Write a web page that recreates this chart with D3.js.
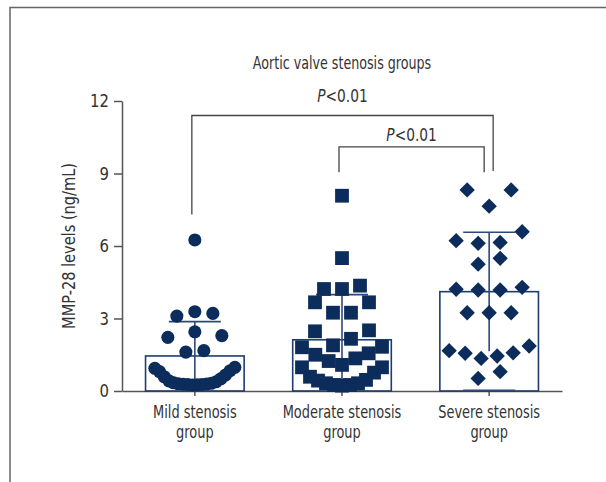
<!DOCTYPE html>
<html>
<head>
<meta charset="utf-8">
<script src="https://cdn.jsdelivr.net/npm/d3@7.9.0/dist/d3.min.js"></script>
<style>
  body { margin: 0; background: #fff; }
  svg { display: block; }
  text { font-family: "Liberation Sans Narrow", "DejaVu Sans Condensed", "Arial Narrow", sans-serif; fill: #333; }
</style>
</head>
<body>
<svg id="chart"></svg>
<script>
// group names and two-line tick labels
const groups = ['Mild', 'Moderate', 'Severe'];
const tickLines = {
  Mild: ['Mild stenosis', 'group'],
  Moderate: ['Moderate stenosis', 'group'],
  Severe: ['Severe stenosis', 'group']
};

// individual MMP-28 values (ng/mL)
const mildValues = [0.25, 0.26, 0.27, 0.27, 0.28, 0.29, 0.30, 0.32, 0.34, 0.38, 0.42, 0.50,
  0.59, 0.66, 0.80, 0.84, 0.94, 0.98, 1.61, 1.67, 2.22, 2.29, 2.45, 3.10, 3.21, 3.28, 6.25];
const moderateValues = [0.22, 0.25, 0.25, 0.32, 0.32, 0.43, 0.46, 0.59, 0.76, 0.98, 0.98,
  1.08, 1.24, 1.35, 1.50, 1.56, 1.81, 1.83, 1.89, 2.16, 2.47, 2.51, 3.24, 3.24, 3.67, 3.67,
  4.22, 4.22, 4.36, 5.50, 8.08];
const severeValues = [0.52, 0.80, 1.35, 1.45, 1.56, 1.58, 1.67, 1.86, 3.24, 3.24, 3.24,
  4.18, 4.18, 4.21, 4.29, 5.25, 5.49, 6.11, 6.15, 6.22, 6.59, 7.65, 8.32, 8.32];

// bar = mean, whisker = SD
const means = [1.45, 2.12, 4.11];
const sds = [1.42, 1.87, 2.46];

const yTicks = [0, 3, 6, 9, 12];

// significance brackets (y in ng/mL)
const comparisons = [
  { from: 'Mild', to: 'Severe', top: 11.4, leftEnd: 7.3, rightEnd: 9.1, label: '<0.01' },
  { from: 'Moderate', to: 'Severe', top: 10.1, leftEnd: 9.05, rightEnd: 9.05, label: '<0.01' }
];

const W = 606, H = 482;
const svg = d3.select('#chart').attr('width', W).attr('height', H);

// only DejaVu Condensed is around, squeeze it to look like a narrow face
function label(parent, px, py, sx, size) {
  return parent.append('text')
    .attr('transform', `translate(${px},${py}) scale(${sx},1)`)
    .attr('text-anchor', 'middle')
    .style('font-size', size + 'px');
}

// partial frame (top + left)
svg.append('path')
  .attr('d', `M10,${H} V7.5 H${W}`)
  .attr('fill', 'none')
  .attr('stroke', '#666')
  .attr('stroke-width', 1.5);

let x = d3.scaleBand()
  .domain(groups)
  .range([122, 562])
  .paddingInner(0.33)
  .paddingOuter(0.16);

let y = d3.scaleLinear()
  .domain([0, 12])
  .range([391, 101]);

const cx = g => x(g) + x.bandwidth() / 2;

// axes
let yAxis = svg.append('g')
  .attr('transform', 'translate(122,0)')
  .call(d3.axisLeft(y).tickValues(yTicks).tickSize(8).tickPadding(4).tickSizeOuter(0));

let xAxis = svg.append('g')
  .attr('transform', 'translate(0,391)')
  .call(d3.axisBottom(x).tickSize(5).tickSizeOuter(0).tickFormat(''));

[yAxis, xAxis].forEach(a => {
  a.selectAll('path, line').attr('stroke', '#555').attr('stroke-width', 1.5);
});
yAxis.selectAll('text')
  .attr('x', 0)
  .attr('transform', 'translate(-13,0) scale(0.92,1)')
  .style('font-size', '18px')
  .attr('fill', '#333');

xAxis.selectAll('.tick').each(function(d) {
  let t = d3.select(this).append('text')
    .attr('text-anchor', 'middle')
    .attr('transform', 'scale(0.8,1)')
    .attr('fill', '#333')
    .style('font-size', '18px');
  tickLines[d].forEach((line, i) => {
    t.append('tspan').attr('x', 0).attr('y', 27 + i * 20.5).text(line);
  });
});

// axis title
label(svg, 75, 246, 0.9, 18)
  .attr('transform', 'translate(75,246) rotate(-90) scale(0.9,1)')
  .text('MMP-28 levels (ng/mL)');

label(svg, 342, 69, 0.83, 17).text('Aortic valve stenosis groups');

// bars
const navy = '#0c2c5c';
const barColor = '#1e3d6b';

svg.selectAll('rect.bar')
  .data(groups)
  .join('rect')
  .attr('class', 'bar')
  .attr('x', d => x(d))
  .attr('y', (d, i) => y(means[i]))
  .attr('width', x.bandwidth())
  .attr('height', (d, i) => y(0) - y(means[i]))
  .attr('fill', 'none')
  .attr('stroke', barColor)
  .attr('stroke-width', 1.6);

// error bars
let err = svg.selectAll('g.err')
  .data(groups)
  .join('g')
  .attr('class', 'err')
  .attr('stroke', '#2b4a78')
  .attr('stroke-width', 1.6);

err.append('line')
  .attr('x1', d => cx(d)).attr('x2', d => cx(d))
  .attr('y1', (d, i) => y(means[i] + sds[i]))
  .attr('y2', (d, i) => y(Math.max(0, means[i] - sds[i])));

err.append('line')
  .attr('x1', d => cx(d) - 26).attr('x2', d => cx(d) + 26)
  .attr('y1', (d, i) => y(means[i] + sds[i]))
  .attr('y2', (d, i) => y(means[i] + sds[i]));

err.filter((d, i) => means[i] - sds[i] > 0.5)
  .append('line')
  .attr('x1', d => cx(d) - 26).attr('x2', d => cx(d) + 26)
  .attr('y1', (d, i) => y(means[i] - sds[i]))
  .attr('y2', (d, i) => y(means[i] - sds[i]));

// column scatter: sort, cut into rows, spread each row around the centre
function swarm(values, step, halfW, rowH) {
  let sorted = values.slice().sort((a, b) => a - b);
  let out = [];
  let i = 0;
  while (i < sorted.length) {
    let start = sorted[i];
    let row = [];
    while (i < sorted.length && sorted[i] < start + rowH) row.push(sorted[i++]);
    let n = row.length;
    let s = n > 1 ? Math.min(step, halfW / ((n - 1) / 2)) : 0;
    row.forEach((v, j) => {
      let off;
      if (n % 2) {
        let k = Math.ceil(j / 2);
        off = (j % 2 ? -1 : 1) * k * s;
      } else {
        let k = Math.floor(j / 2);
        off = (j % 2 ? 1 : -1) * (k + 0.5) * s;
      }
      out.push({ v, off });
    });
  }
  return out;
}

const series = [
  { group: 'Mild', values: mildValues, symbol: d3.symbolCircle, size: 135, rotate: 0, step: 18 },
  { group: 'Moderate', values: moderateValues, symbol: d3.symbolSquare, size: 190, rotate: 0, step: 18 },
  { group: 'Severe', values: severeValues, symbol: d3.symbolSquare, size: 118, rotate: 45, step: 22 }
];

series.forEach(s => {
  let pts = swarm(s.values, s.step, 40, 0.8);
  svg.append('g')
    .selectAll('path')
    .data(pts)
    .join('path')
    .attr('d', d3.symbol().type(s.symbol).size(s.size))
    .attr('transform', d => `translate(${cx(s.group) + d.off},${y(d.v)}) rotate(${s.rotate})`)
    .attr('fill', navy);
});

// significance brackets
comparisons.forEach((c, i) => {
  let x1 = cx(c.from) - 3;
  let x2 = cx(c.to) + (i === 0 ? 4 : -5);
  svg.append('path')
    .attr('d', `M${x1},${y(c.leftEnd)} V${y(c.top)} H${x2} V${y(c.rightEnd)}`)
    .attr('fill', 'none')
    .attr('stroke', '#444')
    .attr('stroke-width', 1.3);
  let t = label(svg, (x1 + x2) / 2, y(c.top) - (i === 0 ? 14 : 6), 0.85, 18);
  t.append('tspan').style('font-style', 'italic').text('P');
  t.append('tspan').text(c.label);
});
</script>
</body>
</html>
